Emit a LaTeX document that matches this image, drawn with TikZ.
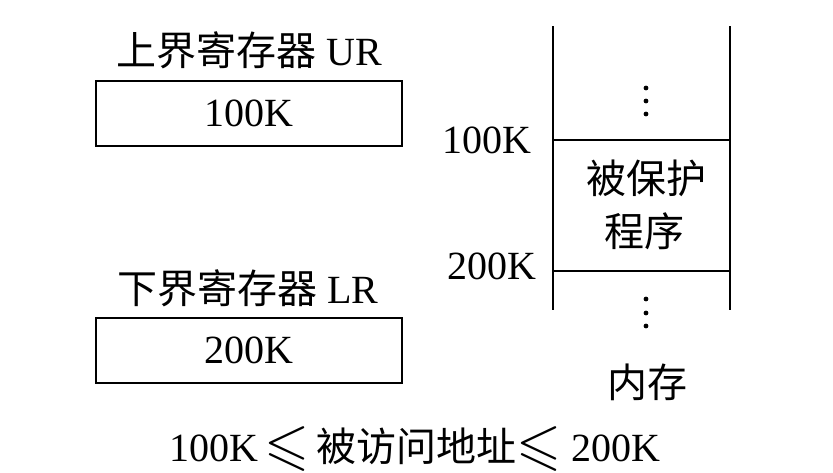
\documentclass[tikz,border=0pt]{standalone}
\usepackage{amssymb}
\usepackage{fontspec}
\setmainfont{Liberation Serif}
\newfontfamily\cjk{Noto Sans CJK SC}
\usetikzlibrary{positioning}
\newcommand{\bigleq}{\raisebox{-0.05em}{\scalebox{1.45}{$\leqslant$}}}

\begin{document}
\begin{tikzpicture}[yscale=-1
,every node/.style={font=\fontsize{40}{44}\selectfont,inner sep=0pt,color=black}
,pstyle1/.style={draw=black,line width=2pt,minimum width=306pt,minimum height=65pt}
,pstyle2/.style={color=black,line width=2pt}
]
\useasboundingbox (0pt,0pt) rectangle (833pt,472pt);
% registers
\node at (249pt,50pt) (urlabel) {{\cjk 上界寄存器} UR};
\node[pstyle1] at (249pt,113.5pt) (ur) {100K};
\node at (248pt,288pt) (lrlabel) {{\cjk 下界寄存器} LR};
\node[pstyle1] at (249pt,350.5pt) (lr) {200K};
% memory
\coordinate (mtl) at (553pt,26pt);
\coordinate (mtr) at (730pt,26pt);
\coordinate (mbl) at (553pt,310pt);
\coordinate (mbr) at (730pt,310pt);
\coordinate (mul) at (553pt,140pt);
\coordinate (mur) at (730pt,140pt);
\coordinate (mll) at (553pt,271pt);
\coordinate (mlr) at (730pt,271pt);
\draw[pstyle2] (mtl) -- (mbl);
\draw[pstyle2] (mtr) -- (mbr);
\draw[pstyle2] (mul) -- (mur);
\draw[pstyle2] (mll) -- (mlr);
\foreach \y in {88,101,114,299,313,326}
  \fill (646pt,\y pt) circle (2.4pt);
\node[left=21pt of mul] (upper) {100K};
\node[anchor=east] at (537pt,266.5pt) (lower) {200K};
\node at (646pt,178.5pt) (prot1) {\cjk 被保护};
\node at (644pt,231pt) (prot2) {\cjk 程序};
\node at (647pt,382pt) (mem) {\cjk 内存};
% condition
\node at (415pt,449pt) (cond) {100K\,\bigleq{\cjk\,被访问地址}\bigleq\ 200K};
\end{tikzpicture}
\end{document}
